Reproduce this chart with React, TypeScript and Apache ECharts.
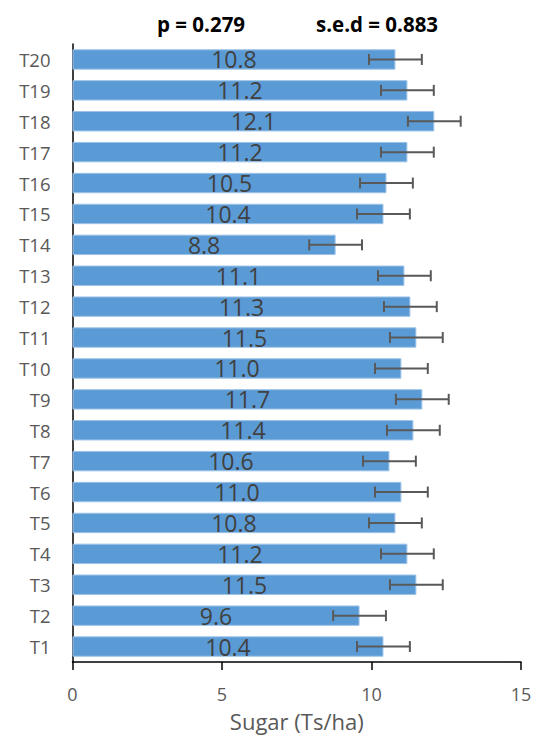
import React, { useEffect, useRef } from "react";
import * as echarts from "echarts";

const categories = ["T1","T2","T3","T4","T5","T6","T7","T8","T9","T10","T11","T12","T13","T14","T15","T16","T17","T18","T19","T20"];
const sugarValues = [10.4, 9.6, 11.5, 11.2, 10.8, 11.0, 10.6, 11.4, 11.7, 11.0, 11.5, 11.3, 11.1, 8.8, 10.4, 10.5, 11.2, 12.1, 11.2, 10.8];
const sed = 0.883;
const pValue = "0.279";
const xTicks = [0, 5, 10, 15];

export default function App() {
  const ref = useRef<HTMLDivElement>(null);
  useEffect(() => {
    if (!ref.current) return;
    const chart = echarts.init(ref.current, null, { renderer: "svg" });
    const font = "'Open Sans', 'Liberation Sans', sans-serif";
    chart.setOption({
      animation: false,
      backgroundColor: "#ffffff",
      textStyle: { fontFamily: font },
      title: [
        { text: "p = " + pValue, left: 152, top: 8, textStyle: { fontFamily: font, fontSize: 20.5, fontWeight: "bold", color: "#000" } },
        { text: "s.e.d = " + sed.toFixed(3), left: 311, top: 8, textStyle: { fontFamily: font, fontSize: 20.5, fontWeight: "bold", color: "#000" } },
      ],
      grid: { left: 72.5, right: 19, top: 44, bottom: 76, containLabel: false },
      xAxis: {
        type: "value",
        min: xTicks[0],
        max: xTicks[xTicks.length - 1],
        interval: 5,
        name: "Sugar (Ts/ha)",
        nameLocation: "middle",
        nameGap: 48,
        nameTextStyle: { fontFamily: font, fontSize: 22, color: "#595959" },
        axisLine: { show: true, lineStyle: { color: "#000", width: 1.5 } },
        axisTick: { show: true, length: 8, lineStyle: { color: "#000", width: 1.5 } },
        axisLabel: { fontFamily: font, fontSize: 18, color: "#595959", margin: 23 },
        splitLine: { show: false },
      },
      yAxis: {
        type: "category",
        data: categories,
        axisLine: { show: true, lineStyle: { color: "#000", width: 1.5 } },
        axisTick: { show: false },
        axisLabel: { fontFamily: font, fontSize: 18.5, color: "#595959", margin: 22 },
      },
      series: [
        {
          type: "bar",
          data: sugarValues,
          barWidth: "66%",
          itemStyle: { color: "#5b9bd5", borderColor: "#9cc2e8", borderWidth: 1 },
          label: {
            show: true,
            position: "inside",
            formatter: (p: any) => Number(p.value).toFixed(1),
            fontFamily: font,
            fontSize: 23,
            color: "#404040",
          },
          z: 2,
        },
        {
          type: "custom",
          data: sugarValues.map((v, i) => [i, v - sed, v + sed]),
          encode: { x: [1, 2], y: 0 },
          z: 3,
          renderItem: (params: any, api: any) => {
            const idx = api.value(0);
            const lo = api.coord([api.value(1), idx]);
            const hi = api.coord([api.value(2), idx]);
            const cap = 5.5;
            const style = { stroke: "#595959", lineWidth: 2 };
            return {
              type: "group",
              children: [
                { type: "line", shape: { x1: lo[0], y1: lo[1], x2: hi[0], y2: hi[1] }, style },
                { type: "line", shape: { x1: lo[0], y1: lo[1] - cap, x2: lo[0], y2: lo[1] + cap }, style },
                { type: "line", shape: { x1: hi[0], y1: hi[1] - cap, x2: hi[0], y2: hi[1] + cap }, style },
              ],
            };
          },
        },
      ],
    });
    return () => chart.dispose();
  }, []);
  return <div ref={ref} style={{ width: 540, height: 738, position: "absolute", left: 0, top: 0 }} />;
}
